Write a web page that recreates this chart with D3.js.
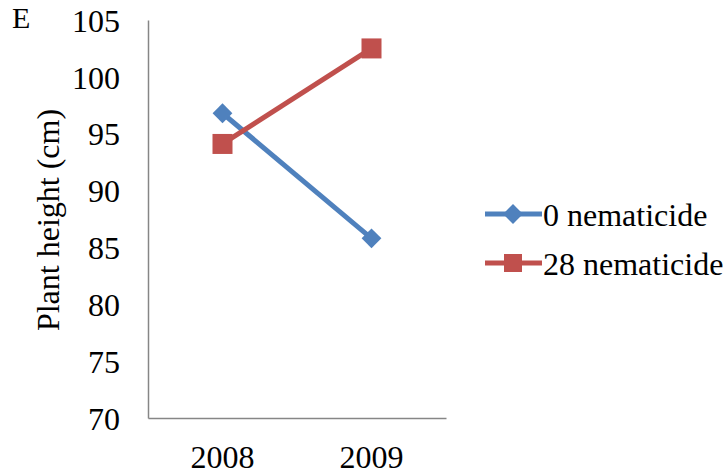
<!DOCTYPE html>
<html><head><meta charset="utf-8">
<script src="https://cdn.jsdelivr.net/npm/d3@7"></script>
<style>body{margin:0;background:#fff}svg{display:block}</style>
</head><body><svg id="c" width="727" height="475" font-family="Liberation Serif"></svg>
<script>
const categories = ["2008", "2009"];
const seriesNames = ["0 nematicide", "28 nematicide"];
const values0 = [96.8, 85.8];
const values28 = [94.1, 102.5];
const yTicks = [70, 75, 80, 85, 90, 95, 100, 105];
const colors = ["#4F81BD", "#C0504D"];
const series = [
  {name: seriesNames[0], values: values0, color: colors[0], shape: "diamond"},
  {name: seriesNames[1], values: values28, color: colors[1], shape: "square"}
];
const FONT = "Liberation Serif";
const svg = d3.select("#c");
const x = d3.scaleBand().domain(categories).range([148, 446]);
const y = d3.scaleLinear().domain([70, 105]).range([418, 20]);
const fs = 32;
// y axis
const ya = svg.append("g").attr("transform", "translate(148,0)")
  .call(d3.axisLeft(y).tickValues(yTicks).tickSize(0).tickPadding(28));
ya.attr("font-family", FONT).attr("font-size", fs);
ya.select(".domain").attr("stroke", "#868686").attr("stroke-width", 1.5);
ya.selectAll("text").attr("font-family", FONT).attr("font-size", fs).attr("fill", "#000").attr("dy", "0.35em");
// x axis
const xa = svg.append("g").attr("transform", "translate(0,418)")
  .call(d3.axisBottom(x).tickSize(0).tickPadding(50));
xa.attr("font-family", FONT).attr("font-size", fs);
xa.select(".domain").attr("stroke", "#868686").attr("stroke-width", 1.5);
xa.selectAll("text").attr("font-family", FONT).attr("font-size", fs).attr("fill", "#000").attr("dy", "0");
const cx = c => x(c) + x.bandwidth() / 2;
const line = d3.line().x((d, i) => cx(categories[i])).y(d => y(d));
series.forEach(s => {
  svg.append("path").datum(s.values).attr("d", line).attr("fill", "none")
    .attr("stroke", s.color).attr("stroke-width", 5);
  const g = svg.append("g");
  s.values.forEach((v, i) => {
    const px = cx(categories[i]), py = y(v);
    if (s.shape === "diamond") {
      g.append("rect").attr("x", -7).attr("y", -7).attr("width", 14).attr("height", 14)
        .attr("transform", `translate(${px},${py}) rotate(45)`).attr("fill", s.color);
    } else {
      g.append("rect").attr("x", px - 10).attr("y", py - 10).attr("width", 20).attr("height", 20).attr("fill", s.color);
    }
  });
});
// legend
const leg = svg.append("g");
series.forEach((s, i) => {
  const ly = 214 + i * 49;
  leg.append("line").attr("x1", 485).attr("x2", 542).attr("y1", ly).attr("y2", ly)
    .attr("stroke", s.color).attr("stroke-width", 5);
  if (s.shape === "diamond") {
    leg.append("rect").attr("x", -7).attr("y", -7).attr("width", 14).attr("height", 14)
      .attr("transform", `translate(513,${ly}) rotate(45)`).attr("fill", s.color);
  } else {
    leg.append("rect").attr("x", 513 - 9).attr("y", ly - 9).attr("width", 18).attr("height", 18).attr("fill", s.color);
  }
  leg.append("text").attr("x", 543).attr("y", ly + 12).attr("font-family", FONT).attr("font-size", fs).text(s.name);
});
// axis title
svg.append("text").attr("transform", "translate(59,220) rotate(-90)").attr("text-anchor", "middle")
  .attr("font-family", FONT).attr("font-size", fs).text("Plant height (cm)");
// panel letter
svg.append("text").attr("x", 12).attr("y", 28).attr("font-family", FONT).attr("font-size", 30).text("E");
</script></body></html>
